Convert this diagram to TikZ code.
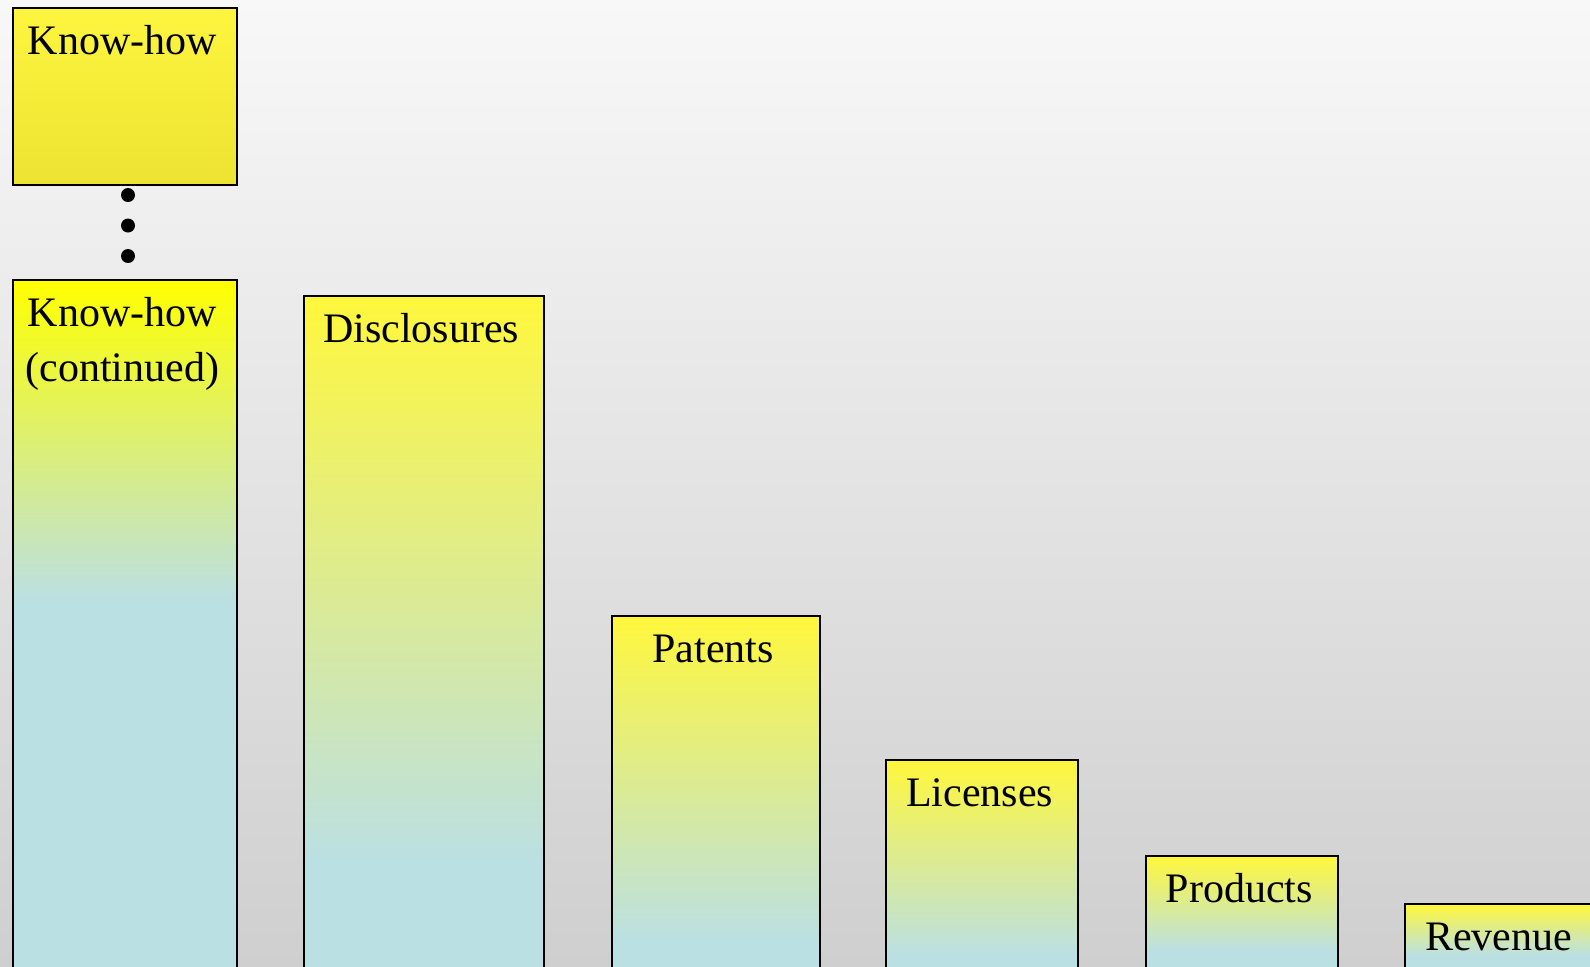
\documentclass[tikz,border=0pt]{standalone}
\usepackage{fontspec}
\setmainfont{Liberation Serif}
\usetikzlibrary{fit}

\definecolor{bgtop}{RGB}{248,248,248}
\definecolor{bgbot}{RGB}{207,207,207}
\definecolor{ylw}{RGB}{255,247,60}
\definecolor{pureylw}{RGB}{255,255,0}
\definecolor{lblue}{RGB}{187,224,227}
\definecolor{kytop}{RGB}{253,245,62}
\definecolor{kybot}{RGB}{237,227,50}

\tikzset{
  bar/.style={rectangle, draw=black, line width=1pt, inner sep=0pt},
  lbl/.style={anchor=base, inner sep=0pt,
              font=\fontsize{21pt}{27.5pt}\selectfont},
  bigdot/.style={circle, fill=black, inner sep=0pt, minimum size=7pt},
}

% column: name, left, right, top, end of the yellow-to-blue blend, top colour, caption
\newcommand\gradcolumn[7]{%
  \shade[top color=#6, bottom color=lblue] (#2,#4) rectangle (#3,#5);
  \fill[lblue] (#2,#5) rectangle (#3,1000);
  \node[bar, fit={(#2,#4) (#3,1000)}] (#1) {};
  \node[lbl] (#1-text) at ({(#2+#3)/2-2.5},{#4+46.5}) {#7};
}

% centred lines whose baseline is that of the first line
\newcommand\firstlinestack[2]{\vtop{\halign{\hfil##\hfil\cr #1\cr #2\cr}}}

\begin{document}
\begin{tikzpicture}[x={(0.5pt,0)}, y={(0,-0.5pt)}]
  \useasboundingbox (0,0) rectangle (1590,966);
  \clip (0,0) rectangle (1590,966);
  \shade[top color=bgtop, bottom color=bgbot] (0,0) rectangle (1590,966);

  % first know-how block
  \shade[top color=kytop, bottom color=kybot] (12.5,8) rectangle (237,184.5);
  \node[bar, fit={(12.5,8) (237,184.5)}] (kh) {};
  \node[lbl] (kh-text) at ({(12.5+237)/2-2.5},{8+46.5}) {Know-how};

  % ellipsis between the two know-how blocks
  \node[bigdot] (d1) at (128,195) {};
  \node[bigdot] (d2) at (128,225.5) {};
  \node[bigdot] (d3) at (128,256) {};

  \gradcolumn{khc}{12.5}{237}{280}{600}{pureylw}{\firstlinestack{Know-how}{(continued)}}
  \gradcolumn{disc}{304}{543.5}{296}{860}{ylw}{Disclosures}
  \gradcolumn{pat}{611.5}{819.5}{615.5}{940}{ylw}{Patents}
  \gradcolumn{lic}{886}{1078}{759.5}{955}{ylw}{Licenses}
  \gradcolumn{prod}{1146}{1337.5}{856}{950}{ylw}{Products}
  \gradcolumn{rev}{1404.5}{1598}{904}{955}{ylw}{Revenue}
\end{tikzpicture}
\end{document}
